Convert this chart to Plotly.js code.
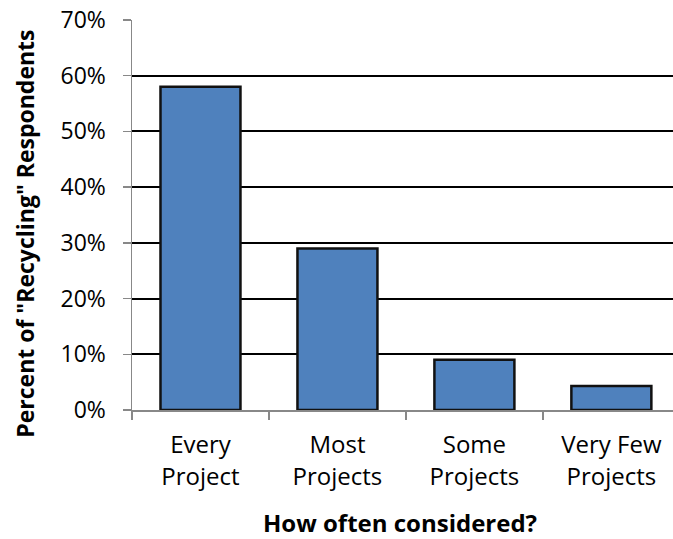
<!DOCTYPE html>
<html>
<head>
<meta charset="utf-8">
<script src="https://cdn.plot.ly/plotly-3.0.1.min.js"></script>
<style>html,body{margin:0;padding:0;background:#fff;}#chart{width:673px;height:539px;}</style>
</head>
<body>
<div id="chart"></div>
<script>
const categories = ["Every<br>Project", "Most<br>Projects", "Some<br>Projects", "Very Few<br>Projects"];
const percents = [0.58, 0.29, 0.09, 0.043];
const yTickValues = [0, 0.1, 0.2, 0.3, 0.4, 0.5, 0.6, 0.7];
const xTitle = "How often considered?";
const yTitle = "Percent of \"Recycling\" Respondents";

const trace = {
  type: "bar",
  x: categories,
  y: percents,
  width: 0.584,
  marker: {color: "#4f81bd", line: {color: "#111111", width: 2.5}},
  hoverinfo: "none"
};

const layout = {
  width: 673, height: 539,
  margin: {l: 132, r: 0, t: 20, b: 129, pad: 0},
  paper_bgcolor: "#ffffff", plot_bgcolor: "#ffffff",
  font: {family: "Open Sans, sans-serif", color: "#000000", size: 23},
  showlegend: false,
  bargap: 0,
  xaxis: {
    type: "category",
    range: [-0.5, 3.45],
    showline: true, linecolor: "#888888", linewidth: 1.5,
    ticks: "outside", tickson: "boundaries", ticklen: 8, tickcolor: "#888888", tickwidth: 1.5,
    showgrid: false, zeroline: false,
    tickfont: {size: 24, family: "Open Sans, sans-serif"},
    ticklabelstandoff: 13,
    automargin: false,
    fixedrange: true
  },
  yaxis: {
    range: [0, 0.7],
    tickvals: yTickValues,
    tickformat: ".0%",
    showline: true, linecolor: "#888888", linewidth: 1.5,
    ticks: "outside", ticklen: 8, tickcolor: "#888888", tickwidth: 1.5,
    showgrid: true, gridcolor: "#000000", gridwidth: 2,
    zeroline: false,
    tickfont: {size: 23, family: "Open Sans, sans-serif"},
    ticklabelstandoff: 12,
    automargin: false,
    fixedrange: true
  },
  annotations: [
    {text: "<b>" + xTitle + "</b>", xref: "paper", yref: "paper", x: 0.495, y: 0,
     xanchor: "center", yanchor: "middle", yshift: -112, showarrow: false,
     font: {size: 24, family: "Open Sans, sans-serif", color: "#000000"}},
    {text: "<b>" + yTitle + "</b>", xref: "paper", yref: "paper", x: 0, y: 0.452,
     xanchor: "center", yanchor: "middle", xshift: -107, textangle: -90, showarrow: false,
     font: {size: 23, family: "Open Sans, sans-serif", color: "#000000"}}
  ]
};

Plotly.newPlot("chart", [trace], layout, {displayModeBar: false, staticPlot: true});
</script>
</body>
</html>
